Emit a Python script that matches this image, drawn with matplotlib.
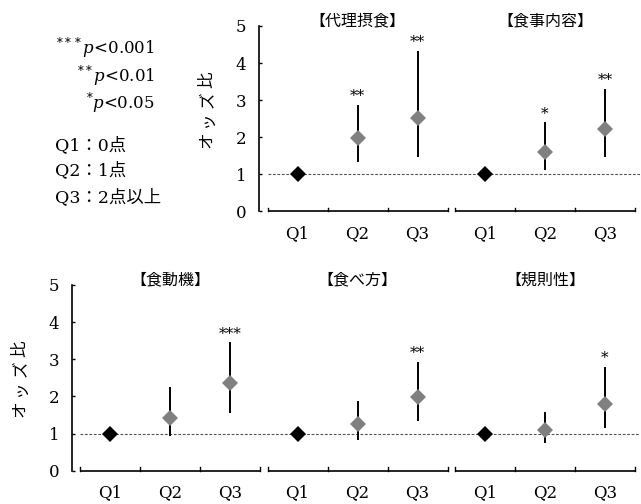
import matplotlib
matplotlib.use("Agg")
import matplotlib.pyplot as plt

plt.rcParams['font.family'] = ['DejaVu Serif', 'Noto Sans CJK JP']
plt.rcParams['mathtext.fontset'] = 'dejavuserif'

# ---- data ----
cats = ['Q1', 'Q2', 'Q3']

top_titles = ['【代理摂食】', '【食事内容】']
top_or = [[1, 1.97, 2.53], [1, 1.61, 2.21]]
top_lo = [[1, 1.36, 1.50], [1, 1.13, 1.50]]
top_hi = [[1, 2.84, 4.31], [1, 2.37, 3.27]]
top_sig = [['', '**', '**'], ['', '*', '**']]

bot_titles = ['【食動機】', '【食べ方】', '【規則性】']
bot_or = [[1, 1.43, 2.37], [1, 1.25, 1.99], [1, 1.09, 1.79]]
bot_lo = [[1, 0.97, 1.57], [1, 0.85, 1.37], [1, 0.77, 1.17]]
bot_hi = [[1, 2.22, 3.43], [1, 1.84, 2.91], [1, 1.55, 2.76]]
bot_sig = [['', '', '***'], ['', '', '**'], ['', '', '*']]

ylabel = 'オッズ比'
legend_p = [r'$^{***}p$<0.001', r'$^{**}p$<0.01', r'$^{*}p$<0.05']
legend_q = ['Q1：0点', 'Q2：1点', 'Q3：2点以上']

W, H = 641, 504
GROUP_STEP = 3.125          # group spacing in category units
XRIGHT = 8.833


def px(x, y):
    return x / W, 1 - y / H


fig = plt.figure(figsize=(W / 100, H / 100), dpi=100)

# axes placed so both panels share the same x mapping
ax_top = fig.add_axes([259 / W, 0.5734, 381 / W, 0.3824])
ax_bot = fig.add_axes([72 / W, 0.0587, 568 / W, 0.3832])


def draw_panel(ax, first_group, titles, ors, los, his, sigs, xleft):
    ax.set_xlim(xleft, XRIGHT)
    ax.set_ylim(-0.1, 5.1)
    for s in ['top', 'right', 'bottom']:
        ax.spines[s].set_visible(False)
    ax.spines['left'].set_bounds(0, 5)
    ax.spines['left'].set_linewidth(1.2)
    ax.set_yticks(range(6))
    ax.tick_params(axis='y', direction='in', length=2.5, width=1, pad=9,
                   labelsize=12)

    xt, xl = [], []
    g0 = first_group * GROUP_STEP - 0.5
    ax.plot([g0, XRIGHT], [1, 1], color='#555555', lw=0.8,
            ls=(0, (2.5, 1.5)), zorder=1)
    for k, title in enumerate(titles):
        g = (first_group + k) * GROUP_STEP
        xs = [g + i for i in range(len(cats))]
        # bracket-style axis for each group
        ax.plot([g - 0.5, g + 2.5], [0, 0], color='black', lw=1.2,
                clip_on=False, solid_capstyle='butt')
        for b in [g - 0.5, g + 0.5, g + 1.5, g + 2.5]:
            ax.plot([b, b], [0, 0.09], color='black', lw=1, clip_on=False)
        for i, x in enumerate(xs):
            if i > 0:
                ax.plot([x, x], [los[k][i], his[k][i]], color='black',
                        lw=1.4, zorder=2)
            color = 'black' if i == 0 else '#808080'
            ax.plot(x, ors[k][i], marker='D', ms=8.5, color=color,
                    mec=color, mew=0, ls='none', zorder=3)
            if sigs[k][i]:
                ax.annotate(sigs[k][i], (x, his[k][i]),
                            xytext=(0, 2), textcoords='offset points',
                            ha='center', va='bottom', fontsize=11)
        ax.text(xs[1], 5.14, title, ha='center', va='center', fontsize=11.5,
                family=['Noto Sans CJK JP'])
        xt += xs
        xl += cats
    ax.set_xticks(xt)
    ax.set_xticklabels(xl)
    ax.tick_params(axis='x', length=0, pad=7, labelsize=12)


draw_panel(ax_top, 1, top_titles, top_or, top_lo, top_hi, top_sig,
           (259 - 110) / 60)
draw_panel(ax_bot, 0, bot_titles, bot_or, bot_lo, bot_hi, bot_sig,
           (72 - 110) / 60)

# rotated y labels, one glyph at a time so the spacing is wider
for xc, yc in [(207, 110), (20, 379)]:
    n = len(ylabel)
    for j, ch in enumerate(ylabel):
        yy = yc + (n - 1) / 2 * 20 - j * 20
        fig.text(*px(xc, yy), ch, rotation=90, ha='center', va='center',
                 fontsize=12, family=['Noto Sans CJK JP'])

# legend text block
for txt, y in zip(legend_p, [48, 76, 103]):
    fig.text(*px(155, y), txt, ha='right', va='center', fontsize=12)
for txt, y in zip(legend_q, [145, 170, 197]):
    fig.text(*px(55, y), txt, ha='left', va='center', fontsize=12.5)

fig.savefig('out.png', dpi=100)
